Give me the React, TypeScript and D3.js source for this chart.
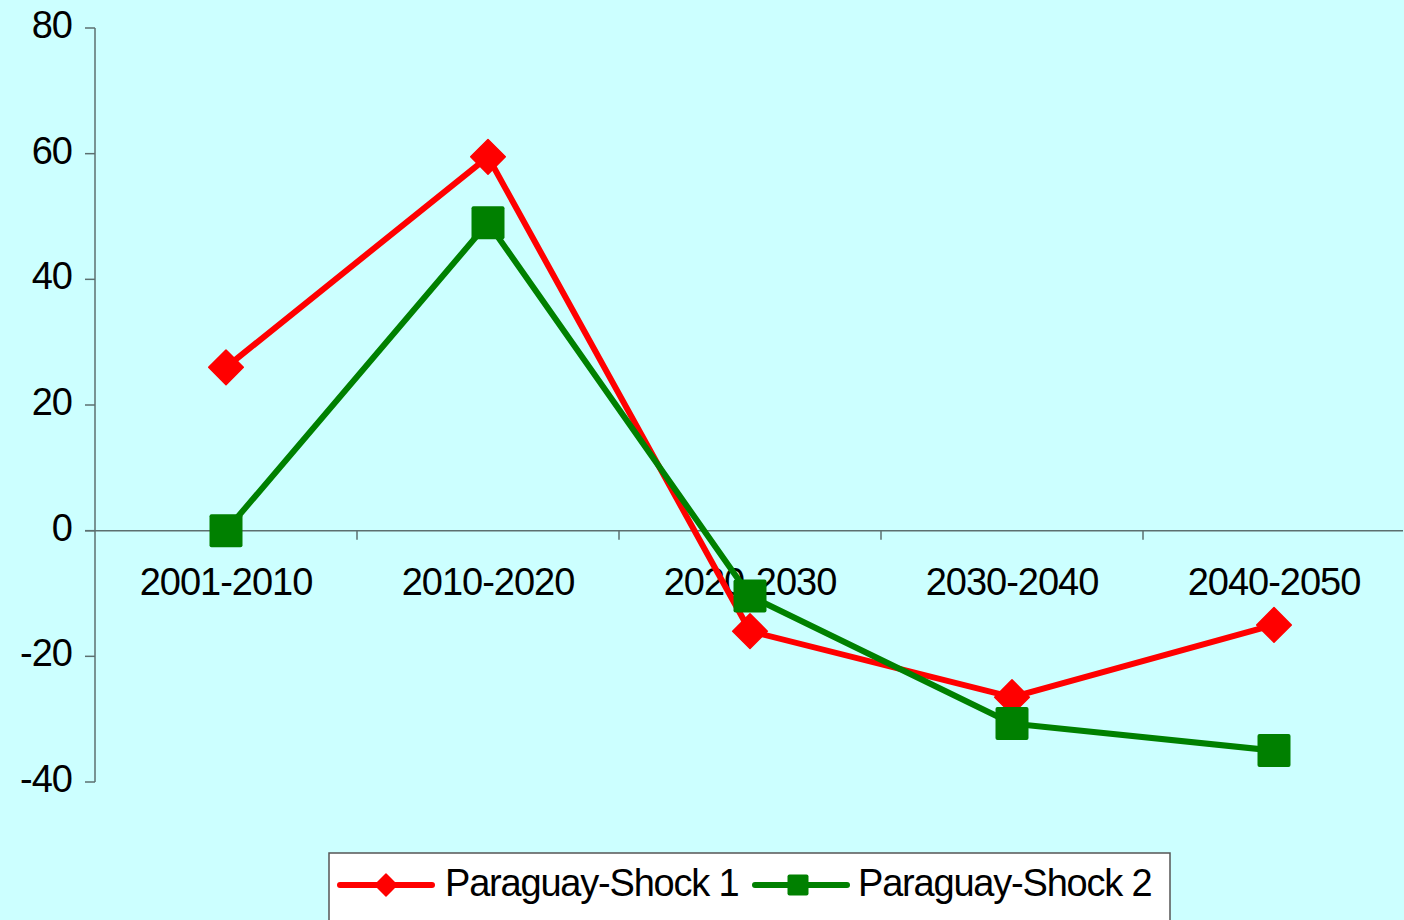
import React from 'react';
import { scaleBand, scaleLinear, line, symbol, symbolSquare } from 'd3';

const width = 1404;
const height = 920;

const periods = ['2001-2010', '2010-2020', '2020-2030', '2030-2040', '2040-2050'];
const shock1 = [26, 59.5, -16, -26.5, -15];
const shock2 = [0, 49, -10.4, -30.7, -35];
const yTicks = [80, 60, 40, 20, 0, -20, -40];
const seriesNames = ['Paraguay-Shock 1', 'Paraguay-Shock 2'];

const font = '"Liberation Sans", Arial, sans-serif';
const axisColor = '#5c6f6f';

function Diamond({ x, y, size }: { x: number; y: number; size: number }) {
  const p = symbol().type(symbolSquare).size(size)();
  return <path d={p || ''} transform={`translate(${x},${y}) rotate(45)`} fill="#ff0000" stroke="#ff0000" strokeWidth={1.5} strokeLinejoin="round" />;
}

function Square({ x, y, side }: { x: number; y: number; side: number }) {
  return <rect x={x - side / 2} y={y - side / 2} width={side} height={side} rx={2} fill="#008000" />;
}

export default function App() {
  const xScale = scaleBand().domain(periods).range([95, 1405]);
  const yScale = scaleLinear().domain([-40, 80]).range([782, 28]);
  const cx = (d: string) => (xScale(d) || 0) + xScale.bandwidth() / 2;
  const y0 = yScale(0);

  const path = line<number>()
    .x((_, i) => cx(periods[i]))
    .y(d => yScale(d));

  return (
    <div style={{ position: 'absolute', left: 0, top: 0 }}>
      <svg width={width} height={height} style={{ display: 'block', fontFamily: font }}>
        <rect width={width} height={height} fill="#ccffff" />

        {/* y axis */}
        <line x1={95} x2={95} y1={yScale(80)} y2={yScale(-40)} stroke={axisColor} strokeWidth={1.5} />
        {yTicks.map(t => (
          <g key={t}>
            <line x1={85} x2={95} y1={yScale(t)} y2={yScale(t)} stroke={axisColor} strokeWidth={1.5} />
            <text x={72} y={yScale(t) + 10} textAnchor="end" fontSize={38} letterSpacing={-1} fill="#000">{t}</text>
          </g>
        ))}

        {/* x axis on zero */}
        <line x1={85} x2={1403} y1={y0} y2={y0} stroke={axisColor} strokeWidth={1.5} />
        {periods.slice(1).map(p => (
          <line key={p} x1={xScale(p)} x2={xScale(p)} y1={y0} y2={y0 + 9} stroke={axisColor} strokeWidth={1.5} />
        ))}
        {periods.map(p => (
          <text key={p} x={cx(p)} y={595} textAnchor="middle" fontSize={38} letterSpacing={-1} fill="#000">{p}</text>
        ))}

        {/* series */}
        <path d={path(shock1) || ''} fill="none" stroke="#ff0000" strokeWidth={6} strokeLinejoin="round" />
        {shock1.map((v, i) => <Diamond key={i} x={cx(periods[i])} y={yScale(v)} size={600} />)}
        <path d={path(shock2) || ''} fill="none" stroke="#008000" strokeWidth={6} strokeLinejoin="round" />
        {shock2.map((v, i) => <Square key={i} x={cx(periods[i])} y={yScale(v)} side={33} />)}

        {/* legend */}
        <rect x={329} y={853} width={841} height={80} fill="#ffffff" stroke="#555" strokeWidth={1.5} />
        <line x1={340} x2={432} y1={885} y2={885} stroke="#ff0000" strokeWidth={6} strokeLinecap="round" />
        <Diamond x={386} y={885} size={240} />
        <text x={445} y={896} fontSize={38} letterSpacing={-1.2} fill="#000">{seriesNames[0]}</text>
        <line x1={755} x2={847} y1={885} y2={885} stroke="#008000" strokeWidth={6} strokeLinecap="round" />
        <Square x={798} y={885} side={21} />
        <text x={858} y={896} fontSize={38} letterSpacing={-1.2} fill="#000">{seriesNames[1]}</text>
      </svg>
    </div>
  );
}
